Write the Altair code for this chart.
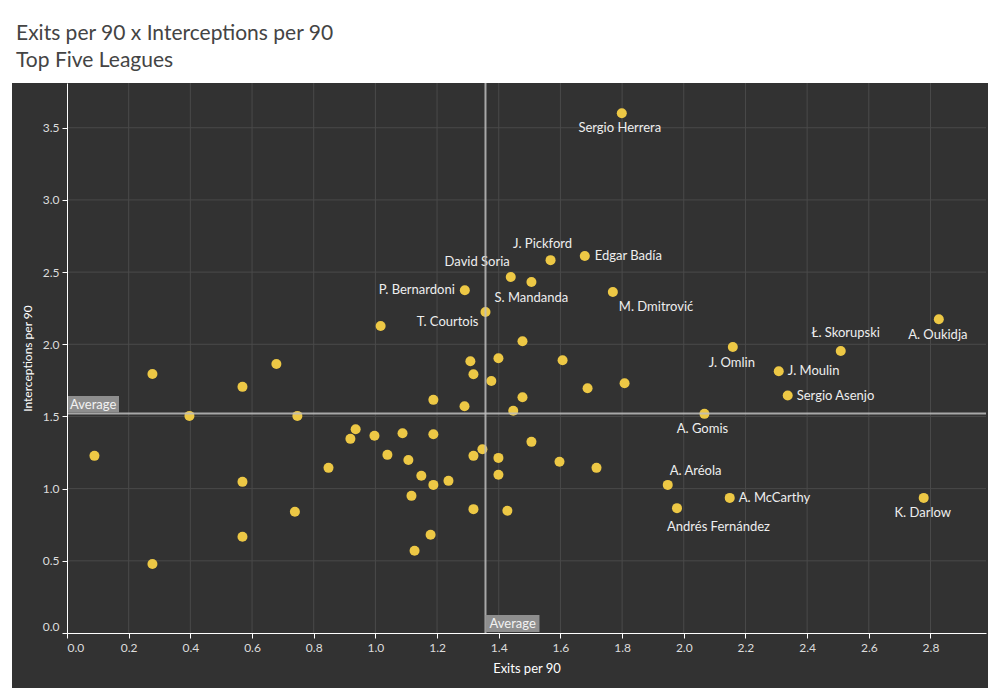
import altair as alt
import pandas as pd

# ---------------- data ----------------
players = [
    "Sergio Herrera", "J. Pickford", "Edgar Badía", "David Soria", "S. Mandanda",
    "P. Bernardoni", "M. Dmitrović", "T. Courtois", "A. Oukidja", "Ł. Skorupski",
    "J. Omlin", "J. Moulin", "Sergio Asenjo", "A. Gomis", "A. Aréola",
    "Andrés Fernández", "A. McCarthy", "K. Darlow",
] + [""] * 46

exits = [
    1.799, 1.568, 1.679, 1.439, 1.506,
    1.290, 1.770, 1.357, 2.827, 2.509,
    2.159, 2.308, 2.337, 2.067, 1.948,
    1.978, 2.149, 2.778,
    1.017, 0.277, 0.679, 0.569, 0.397, 0.747, 0.936, 0.919, 0.089, 0.848,
    0.569, 0.739, 0.569, 0.277, 1.477, 1.308, 1.399, 1.607, 1.318, 1.376,
    1.688, 1.808, 1.477, 1.188, 1.289, 1.447, 0.997, 1.088, 1.188, 1.506,
    1.347, 1.039, 1.107, 1.318, 1.399, 1.597, 1.717, 1.149, 1.399, 1.237,
    1.188, 1.117, 1.318, 1.428, 1.179, 1.127,
]

interceptions = [
    3.600, 2.583, 2.611, 2.466, 2.431,
    2.374, 2.362, 2.224, 2.173, 1.954,
    1.981, 1.813, 1.645, 1.518, 1.026,
    0.865, 0.936, 0.936,
    2.127, 1.794, 1.864, 1.705, 1.504, 1.504, 1.412, 1.345, 1.227, 1.144,
    1.047, 0.840, 0.667, 0.478, 2.021, 1.882, 1.903, 1.889, 1.792, 1.746,
    1.696, 1.730, 1.633, 1.615, 1.571, 1.539, 1.366, 1.384, 1.377, 1.324,
    1.273, 1.234, 1.199, 1.227, 1.213, 1.186, 1.144, 1.089, 1.096, 1.054,
    1.026, 0.950, 0.858, 0.847, 0.680, 0.570,
]

avg_exits = 1.357
avg_interceptions = 1.520

x_ticks = [0.0, 0.2, 0.4, 0.6, 0.8, 1.0, 1.2, 1.4, 1.6, 1.8, 2.0, 2.2, 2.4, 2.6, 2.8]
y_ticks = [0.0, 0.5, 1.0, 1.5, 2.0, 2.5, 3.0, 3.5]

title_lines = ["Exits per 90 x Interceptions per 90", "Top Five Leagues"]
x_title = "Exits per 90"
y_title = "Interceptions per 90"
avg_text = "Average"

# ---------------- label layout (style only) ----------------
label_layout = {
    "Sergio Herrera": ("center", -2, 15),
    "J. Pickford": ("center", -8, -16),
    "Edgar Badía": ("left", 10, 0),
    "David Soria": ("right", -1, -15),
    "S. Mandanda": ("center", 0, 16),
    "P. Bernardoni": ("right", -10, 0),
    "M. Dmitrović": ("left", 6, 15),
    "T. Courtois": ("right", -7, 10),
    "A. Oukidja": ("center", -1, 16),
    "Ł. Skorupski": ("center", 5, -18),
    "J. Omlin": ("center", -1, 16),
    "J. Moulin": ("left", 9, 0),
    "Sergio Asenjo": ("left", 9, 0),
    "A. Gomis": ("center", -2, 15),
    "A. Aréola": ("left", 2, -14),
    "Andrés Fernández": ("left", -10, 19),
    "A. McCarthy": ("left", 9, 0),
    "K. Darlow": ("center", -1, 15),
}

FONT = "Lato"
BG = "#323232"
GRID = "#4a4a4a"
POINT = "#EDC845"

df = pd.DataFrame({"player": players, "exits": exits, "interceptions": interceptions})

x_scale = alt.Scale(domain=[0, 2.98], nice=False, zero=False)
y_scale = alt.Scale(domain=[0, 3.81], nice=False, zero=False)

x_axis = alt.Axis(
    values=x_ticks, format=".1f", grid=False, title=x_title,
    domainColor="#ffffff", domainWidth=1, tickColor="#ffffff", tickSize=5,
    labelColor="#dddddd", labelFont=FONT, labelFontSize=12, labelPadding=4,
    labelFlush=True, titleColor="#ffffff", titleFont=FONT, titleFontSize=13,
    titleFontWeight="normal", titlePadding=9, zindex=1,
)
y_axis = alt.Axis(
    values=y_ticks, format=".1f", grid=False, title=y_title,
    domainColor="#ffffff", domainWidth=1, tickColor="#ffffff", tickSize=5,
    labelColor="#dddddd", labelFont=FONT, labelFontSize=12, labelPadding=3,
    labelFlush=True, titleColor="#ffffff", titleFont=FONT, titleFontSize=12,
    titleFontWeight="normal", titlePadding=8, zindex=1,
)

one = pd.DataFrame({"a": [0]})

background = alt.Chart(one).mark_rect(color=BG).encode(
    x=alt.value(-55), x2=alt.value(921), y=alt.value(0), y2=alt.value(605)
)

vgrid = alt.Chart(pd.DataFrame({"v": x_ticks[1:]})).mark_rule(color=GRID, strokeWidth=1).encode(
    x=alt.X("v:Q", scale=x_scale, axis=x_axis)
)
hgrid = alt.Chart(pd.DataFrame({"v": y_ticks[1:]})).mark_rule(color=GRID, strokeWidth=1).encode(
    y=alt.Y("v:Q", scale=y_scale, axis=y_axis)
)

points = alt.Chart(df).mark_circle(size=100, color=POINT, opacity=1).encode(
    x=alt.X("exits:Q", scale=x_scale, axis=x_axis),
    y=alt.Y("interceptions:Q", scale=y_scale, axis=y_axis),
)

avg_v = alt.Chart(one).mark_rule(color="#bdbdbd", strokeWidth=2, opacity=0.85).encode(
    x=alt.X(datum=avg_exits, type="quantitative", scale=x_scale, axis=x_axis)
)
avg_h = alt.Chart(one).mark_rule(color="#bdbdbd", strokeWidth=2, opacity=0.85).encode(
    y=alt.Y(datum=avg_interceptions, type="quantitative", scale=y_scale, axis=y_axis)
)

avg_h_box = alt.Chart(one).mark_rect(color="#8e8e8e", yOffset=-17.5, y2Offset=-1).encode(
    x=alt.value(0), x2=alt.value(52),
    y=alt.Y(datum=avg_interceptions, type="quantitative", scale=y_scale, axis=y_axis),
    y2=alt.Y2(datum=avg_interceptions),
)
avg_h_text = alt.Chart(one).mark_text(
    text=avg_text, align="left", baseline="middle", dx=0, dy=-9,
    font=FONT, fontSize=13, color="#f2f2f2",
).encode(
    x=alt.value(3),
    y=alt.Y(datum=avg_interceptions, type="quantitative", scale=y_scale, axis=y_axis),
)
avg_v_box = alt.Chart(one).mark_rect(color="#8e8e8e", xOffset=0, x2Offset=54).encode(
    x=alt.X(datum=avg_exits, type="quantitative", scale=x_scale, axis=x_axis),
    x2=alt.X2(datum=avg_exits),
    y=alt.value(532), y2=alt.value(549),
)
avg_v_text = alt.Chart(one).mark_text(
    text=avg_text, align="left", baseline="middle", dx=4,
    font=FONT, fontSize=13, color="#f2f2f2",
).encode(
    x=alt.X(datum=avg_exits, type="quantitative", scale=x_scale, axis=x_axis),
    y=alt.value(540.5),
)

label_layers = []
for name, (align, dx, dy) in label_layout.items():
    label_layers.append(
        alt.Chart(df).transform_filter(alt.datum.player == name).mark_text(
            align=align, baseline="middle", dx=dx, dy=dy,
            font=FONT, fontSize=13, color="#eeeeee",
        ).encode(
            x=alt.X("exits:Q", scale=x_scale, axis=x_axis),
            y=alt.Y("interceptions:Q", scale=y_scale, axis=y_axis),
            text="player:N",
        )
    )

chart = alt.layer(
    background, vgrid, hgrid, points, *label_layers,
    avg_v, avg_h, avg_h_box, avg_h_text, avg_v_box, avg_v_text,
).properties(
    width=919, height=550,
    padding={"left": 59, "top": 75, "right": 4, "bottom": 58},
    autosize=alt.AutoSizeParams(type="none"),
    background="#ffffff",
    title=alt.TitleParams(
        text=title_lines, anchor="start", font=FONT, fontSize=21,
        fontWeight="normal", color="#444444", lineHeight=27, dx=4, offset=11,
    ),
).configure_view(stroke=None)

chart.save("out.html", embed_options={"renderer": "svg", "actions": False})
